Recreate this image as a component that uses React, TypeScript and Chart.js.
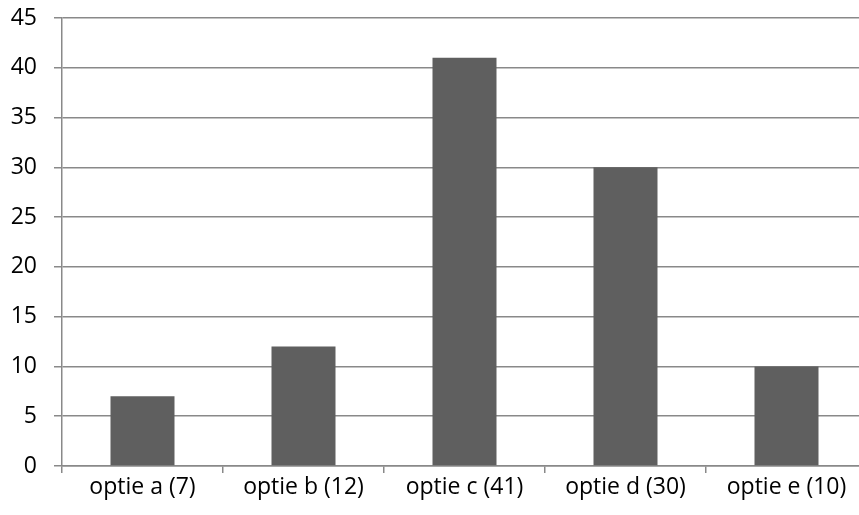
import React, { useEffect, useRef } from "react";
import { Chart, registerables } from "chart.js";

Chart.register(...registerables);

const categories = ["optie a (7)", "optie b (12)", "optie c (41)", "optie d (30)", "optie e (10)"];
const values = [7, 12, 41, 30, 10];
const yMax = 45;
const yStep = 5;

const FONT = "'Open Sans', 'Liberation Sans', sans-serif";
const GRID = "#898989";

export default function App() {
  const ref = useRef<HTMLCanvasElement | null>(null);

  useEffect(() => {
    document.body.style.margin = "0";
    if (!ref.current) return;
    const chart = new Chart(ref.current, {
      type: "bar",
      data: {
        labels: categories,
        datasets: [
          {
            data: values,
            backgroundColor: "#5f5f5f",
            borderWidth: 0,
            categoryPercentage: 1,
            barPercentage: 0.3975,
          },
        ],
      },
      options: {
        responsive: false,
        animation: false,
        layout: { padding: { top: 18, right: 0, left: 0, bottom: 0 } },
        plugins: { legend: { display: false }, tooltip: { enabled: false } },
        scales: {
          x: {
            offset: true,
            grid: {
              offset: true,
              drawOnChartArea: false,
              drawTicks: true,
              tickLength: 7,
              color: GRID,
              lineWidth: 1.5,
            },
            border: { display: true, color: GRID, width: 1.5 },
            ticks: { color: "#000", font: { family: FONT, size: 23 }, padding: 1, maxRotation: 0 },
            afterFit: (s: any) => {
              s.height = 49;
              s.paddingLeft = 0;
              s.paddingRight = 0;
            },
          },
          y: {
            min: 0,
            max: yMax,
            ticks: { stepSize: yStep, color: "#000", font: { family: FONT, size: 23 }, padding: 17 },
            grid: { color: GRID, lineWidth: 1.5, tickLength: 8 },
            border: { display: true, color: GRID, width: 1.5 },
            afterFit: (s: any) => {
              s.width = 62;
              s.paddingTop = 0;
              s.paddingBottom = 0;
            },
          },
        },
      },
    });
    return () => chart.destroy();
  }, []);

  return (
    <div style={{ width: 859, height: 515, background: "#fff", overflow: "hidden" }}>
      <canvas ref={ref} width={867} height={515} style={{ display: "block" }} />
    </div>
  );
}
